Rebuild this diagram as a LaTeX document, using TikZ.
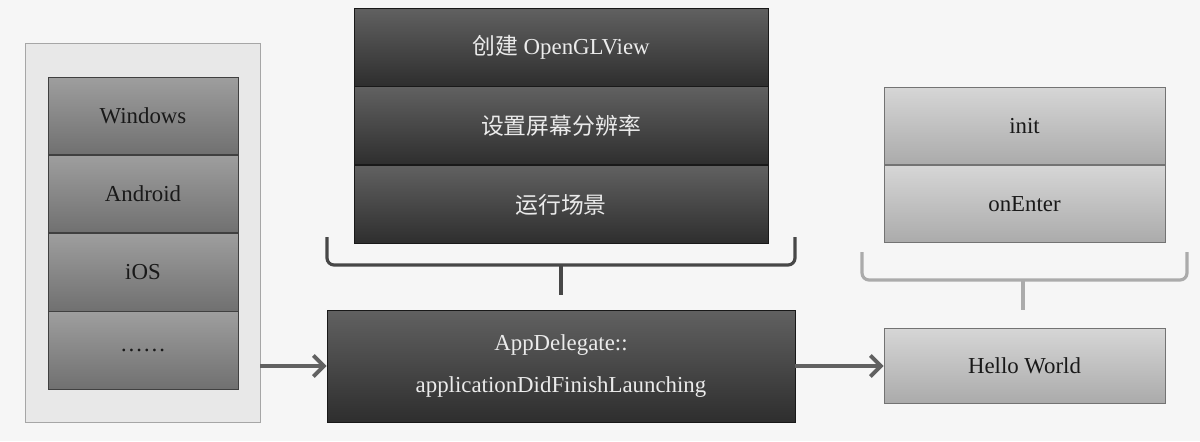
\documentclass[tikz,border=0pt]{standalone}
\usepackage{fontspec}
\setmainfont{Liberation Serif}
\newfontfamily\cjk{Noto Sans CJK SC}
\usepackage{tikz}
\usetikzlibrary{positioning, arrows.meta}
\definecolor{paper}{HTML}{F6F6F6}
\tikzstyle{frame} = [rectangle, minimum width=4.7cm, minimum height=7.58cm, draw=black!35, fill=black!9]
\tikzstyle{platform} = [rectangle, minimum width=3.8cm, minimum height=1.55cm, text centered, draw=black!75, top color=black!38, middle color=black!50, bottom color=black!56, text=black!90, font=\fontsize{13pt}{16pt}\selectfont]
\tikzstyle{startup} = [rectangle, minimum width=8.28cm, minimum height=1.56cm, text centered, draw=black!90, top color=black!62, middle color=black!76, bottom color=black!82, text=white!92!black, font=\fontsize{13pt}{16pt}\selectfont]
\tikzstyle{scene} = [rectangle, minimum width=5.62cm, minimum height=1.55cm, text centered, draw=black!55, top color=black!16, middle color=black!27, bottom color=black!33, text=black!90, font=\fontsize{13pt}{16pt}\selectfont]
\tikzstyle{bracedark} = [draw=black!72, line width=1.8pt, rounded corners=4pt]
\tikzstyle{bracelight} = [draw=black!33, line width=1.8pt, rounded corners=4pt]
\tikzstyle{line} = [draw=black!62, line width=2.2pt, -{Straight Barb[length=6pt, width=12pt]}]

\begin{document}
\begin{tikzpicture}[x=0.02cm, y=-0.02cm, node distance=0pt]
  \useasboundingbox [fill=paper] (0,0) rectangle (1200,441);
  %% nodes
  % platforms
  \node [frame] (platforms) at (142.5,232.5) {};
  \node [platform] (windows) at (143,115.75) {Windows};
  \node [platform, below=of windows] (android) {Android};
  \node [platform, below=of android] (ios) {iOS};
  \node [platform, below=of ios] (others) {……};
  % what the app delegate does
  \node [startup] (opengl) at (561,47) {{\cjk 创建} OpenGLView};
  \node [startup, below=of opengl] (resolution) {\cjk 设置屏幕分辨率};
  \node [startup, below=of resolution] (runscene) {\cjk 运行场景};
  \node [startup, minimum width=9.36cm, minimum height=2.24cm, align=center] (delegate) at (561,366) {AppDelegate::\\[8pt]applicationDidFinishLaunching};
  % the scene
  \node [scene] (init) at (1024.5,125.75) {init};
  \node [scene, below=of init] (onenter) {onEnter};
  \node [scene, minimum height=1.5cm] (hello) at (1024.5,365.5) {Hello World};
  % brace ends
  \coordinate (startupleft) at (327,237);
  \coordinate (startupright) at (795,237);
  \coordinate (startupmid) at (561,265);
  \coordinate (startuptip) at (561,295);
  \coordinate (sceneleft) at (862,252);
  \coordinate (sceneright) at (1187,252);
  \coordinate (scenemid) at (1023,280);
  \coordinate (scenetip) at (1023,310);
  %% edges
  % braces
  \path [bracedark] (startupleft) |- (startupmid) -| (startupright);
  \path [bracedark] (startupmid) -- (startuptip);
  \path [bracelight] (sceneleft) |- (scenemid) -| (sceneright);
  \path [bracelight] (scenemid) -- (scenetip);
  % arrows
  \path [line] (platforms.east |- delegate) -- (delegate);
  \path [line] (delegate.east) -- (delegate.east -| hello.west);
\end{tikzpicture}
\end{document}
